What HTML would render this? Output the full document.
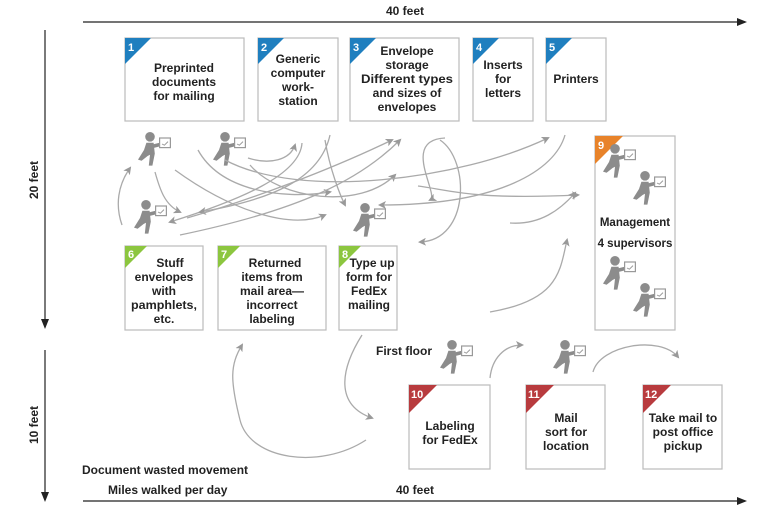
<!DOCTYPE html>
<html><head><meta charset="utf-8"><style>
html,body{margin:0;padding:0;background:#fff;}
svg{display:block;font-family:"Liberation Sans",sans-serif;font-weight:bold;}
</style></head><body>
<svg width="773" height="522" viewBox="0 0 773 522" xmlns="http://www.w3.org/2000/svg">
<defs>
<marker id="a" markerWidth="8" markerHeight="8" refX="6" refY="4" orient="auto" markerUnits="userSpaceOnUse"><path d="M0,0 L8,4 L0,8 L2,4z" fill="#999"/></marker>
<marker id="k" markerWidth="10" markerHeight="8" refX="8" refY="4" orient="auto" markerUnits="userSpaceOnUse"><path d="M0,0 L10,4 L0,8z" fill="#222"/></marker>
<g id="p" transform="scale(1.2)">
<circle cx="10" cy="4" r="4" fill="#8c8c8c"/>
<path d="M7,9 L13,9 L14,18 L12,28 L9,28 L10,19 L8,20 L3,24 L0,23 L5,15z" fill="#8c8c8c"/>
<path d="M12,12 L20,10" stroke="#8c8c8c" stroke-width="3"/>
<rect x="18" y="5" width="9" height="8" fill="#fff" stroke="#999" stroke-width="1"/>
<path d="M20,10 l2,1 l3,-3" stroke="#999" fill="none" stroke-width="0.8"/>
</g>
</defs>
<line x1="83" y1="22" x2="745" y2="22" stroke="#222" stroke-width="1.2" marker-end="url(#k)"/>
<text x="405" y="15" font-size="12" text-anchor="middle" fill="#222">40 feet</text>
<line x1="83" y1="501" x2="745" y2="501" stroke="#222" stroke-width="1.2" marker-end="url(#k)"/>
<text x="415" y="494" font-size="12" text-anchor="middle" fill="#222">40 feet</text>
<line x1="45" y1="30" x2="45" y2="327" stroke="#222" stroke-width="1.2" marker-end="url(#k)"/>
<text transform="translate(38,180) rotate(-90)" font-size="12" text-anchor="middle" fill="#222">20 feet</text>
<line x1="45" y1="350" x2="45" y2="500" stroke="#222" stroke-width="1.2" marker-end="url(#k)"/>
<text transform="translate(38,425) rotate(-90)" font-size="12" text-anchor="middle" fill="#222">10 feet</text>

<g fill="#fff" stroke="#bbb" stroke-width="1.2">
<rect x="125" y="38" width="119" height="83"/>
<rect x="258" y="38" width="80" height="83"/>
<rect x="350" y="38" width="109" height="83"/>
<rect x="473" y="38" width="60" height="83"/>
<rect x="546" y="38" width="60" height="83"/>
<rect x="595" y="136" width="80" height="194"/>
<rect x="125" y="246" width="78" height="84"/>
<rect x="218" y="246" width="108" height="84"/>
<rect x="339" y="246" width="58" height="84"/>
<rect x="409" y="385" width="81" height="84"/>
<rect x="526" y="385" width="79" height="84"/>
<rect x="643" y="385" width="79" height="84"/>
</g>
<g>
<path d="M125,38 h26 l-26,26z" fill="#1f7fbf"/>
<path d="M258,38 h26 l-26,26z" fill="#1f7fbf"/>
<path d="M350,38 h26 l-26,26z" fill="#1f7fbf"/>
<path d="M473,38 h26 l-26,26z" fill="#1f7fbf"/>
<path d="M546,38 h26 l-26,26z" fill="#1f7fbf"/>
<path d="M595,136 h28 l-28,28z" fill="#e8832a"/>
<path d="M125,246 h22 l-22,22z" fill="#8cc63f"/>
<path d="M218,246 h22 l-22,22z" fill="#8cc63f"/>
<path d="M339,246 h22 l-22,22z" fill="#8cc63f"/>
<path d="M409,385 h28 l-28,28z" fill="#b83b3e"/>
<path d="M526,385 h28 l-28,28z" fill="#b83b3e"/>
<path d="M643,385 h28 l-28,28z" fill="#b83b3e"/>
</g>
<g fill="#fff" font-size="11">
<text x="128" y="51">1</text><text x="261" y="51">2</text><text x="353" y="51">3</text><text x="476" y="51">4</text><text x="549" y="51">5</text>
<text x="598" y="149">9</text><text x="128" y="258">6</text><text x="221" y="258">7</text><text x="342" y="258">8</text>
<text x="411" y="398">10</text><text x="528" y="398">11</text><text x="645" y="398">12</text>
</g>
<g fill="#222" font-size="12" text-anchor="middle">
<text x="184" y="72">Preprinted</text><text x="184" y="86">documents</text><text x="184" y="100">for mailing</text>
<text x="298" y="63">Generic</text><text x="298" y="77">computer</text><text x="298" y="91">work-</text><text x="298" y="105">station</text>
<text x="407" y="55">Envelope</text><text x="407" y="69">storage</text><text x="407" y="83" textLength="92" lengthAdjust="spacingAndGlyphs">Different types</text><text x="407" y="97">and sizes of</text><text x="407" y="111">envelopes</text>
<text x="503" y="69">Inserts</text><text x="503" y="83">for</text><text x="503" y="97">letters</text>
<text x="576" y="83">Printers</text>
<text x="635" y="226" font-size="11.5">Management</text><text x="635" y="247" font-size="11.5">4 supervisors</text>
<text x="170" y="267">Stuff</text><text x="164" y="281">envelopes</text><text x="164" y="295">with</text><text x="164" y="309" textLength="66" lengthAdjust="spacingAndGlyphs">pamphlets,</text><text x="164" y="323">etc.</text>
<text x="275" y="267">Returned</text><text x="272" y="281">items from</text><text x="272" y="295">mail area—</text><text x="272" y="309">incorrect</text><text x="272" y="323">labeling</text>
<text x="372" y="267">Type up</text><text x="369" y="281">form for</text><text x="369" y="295">FedEx</text><text x="369" y="309">mailing</text>
<text x="450" y="430">Labeling</text><text x="450" y="444">for FedEx</text>
<text x="566" y="422">Mail</text><text x="566" y="436">sort for</text><text x="566" y="450">location</text>
<text x="683" y="422">Take mail to</text><text x="683" y="436">post office</text><text x="683" y="450">pickup</text>
<text x="404" y="355">First floor</text>
<text x="82" y="474" text-anchor="start">Document wasted movement</text>
<text x="108" y="494" text-anchor="start">Miles walked per day</text>
</g>
<use href="#p" x="138" y="132"/><use href="#p" x="213" y="132"/><use href="#p" x="134" y="200"/><use href="#p" x="353" y="203"/>
<use href="#p" x="603" y="144"/><use href="#p" x="633" y="171"/><use href="#p" x="603" y="256"/><use href="#p" x="633" y="283"/>
<use href="#p" x="440" y="340"/><use href="#p" x="553" y="340"/>
<g fill="none" stroke="#aaa" stroke-width="1.3" marker-end="url(#a)">
<path d="M122,225 C115,205 118,185 130,168"/>
<path d="M155,172 C160,190 165,205 180,212"/>
<path d="M175,170 C230,210 290,230 325,215"/>
<path d="M248,158 C270,165 290,160 295,145"/>
<path d="M302,143 C300,175 240,200 170,222"/>
<path d="M325,140 C330,170 340,195 345,205"/>
<path d="M330,135 C320,180 270,200 200,212"/>
<path d="M250,165 C280,200 360,210 395,175"/>
<path d="M187,218 C250,200 330,170 392,140"/>
<path d="M225,160 C300,200 460,180 548,138"/>
<path d="M198,150 C220,190 280,200 330,192"/>
<path d="M180,235 C300,210 360,180 400,140"/>
<path d="M440,140 C470,160 470,240 420,242"/>
<path d="M445,138 C400,140 440,195 430,200"/>
<path d="M565,135 C555,170 500,205 380,205"/>
<path d="M418,186 C450,190 470,200 578,195"/>
<path d="M510,223 C540,225 560,210 575,193"/>
<path d="M490,312 C560,300 560,270 567,240"/>
<path d="M362,335 C340,370 335,405 372,418"/>
<path d="M366,440 C320,470 250,460 240,420 C230,380 230,365 242,345"/>
<path d="M490,378 C492,358 505,345 522,345"/>
<path d="M593,372 C600,345 660,335 678,357"/>
</g>
</svg>
</body></html>
